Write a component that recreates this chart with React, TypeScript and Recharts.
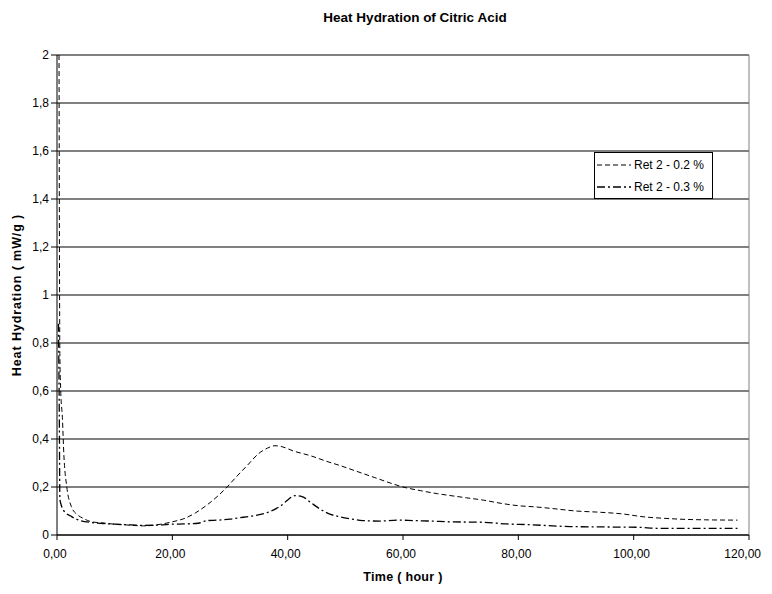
import React from "react";
import { LineChart, Line, XAxis, YAxis, CartesianGrid, ReferenceLine } from "recharts";

const xTicks = [0, 20, 40, 60, 80, 100, 120];
const yTicks = [0, 0.2, 0.4, 0.6, 0.8, 1, 1.2, 1.4, 1.6, 1.8, 2];

const ret02Hours = [0.35, 0.5, 0.65, 0.93, 1.2, 1.7, 2.5, 3.5, 4.5, 6, 8, 10, 12, 15, 18, 20, 22, 24, 26, 28, 29.5, 31, 33, 35, 36.5, 37.8, 39, 41, 44, 47, 49, 52, 55, 58, 60, 63, 66, 68, 71, 74, 77, 80, 83, 86, 90, 94, 98, 102, 105, 109, 113, 118];
const ret02Values = [2.0, 0.75, 0.6, 0.49, 0.33, 0.2, 0.118, 0.085, 0.07, 0.055, 0.05, 0.045, 0.042, 0.038, 0.045, 0.055, 0.068, 0.092, 0.125, 0.165, 0.2, 0.24, 0.29, 0.34, 0.362, 0.372, 0.368, 0.35, 0.33, 0.305, 0.29, 0.265, 0.24, 0.215, 0.2, 0.185, 0.172, 0.165, 0.155, 0.145, 0.132, 0.122, 0.117, 0.11, 0.1, 0.095, 0.088, 0.075, 0.07, 0.065, 0.063, 0.062];

const ret03Hours = [0.25, 0.4, 0.5, 0.8, 1.1, 1.6, 2.3, 3, 4, 6, 8, 10, 13, 15, 18, 20, 22, 24.5, 26, 28, 30, 32.3, 34, 36, 38, 39, 40, 41.3, 42.5, 44, 45.5, 47, 49, 51, 53, 56, 59, 62, 65, 68, 71, 74, 78, 82, 86, 89, 93, 97, 101, 104, 108, 113, 118];
const ret03Values = [0.88, 0.5, 0.15, 0.12, 0.104, 0.09, 0.08, 0.07, 0.06, 0.052, 0.048, 0.045, 0.042, 0.04, 0.042, 0.045, 0.046, 0.049, 0.06, 0.062, 0.066, 0.074, 0.08, 0.09, 0.11, 0.125, 0.146, 0.164, 0.16, 0.135, 0.11, 0.09, 0.076, 0.067, 0.06, 0.058, 0.062, 0.06, 0.058, 0.055, 0.054, 0.053, 0.046, 0.043, 0.038, 0.035, 0.034, 0.033, 0.032, 0.028, 0.028, 0.028, 0.028];

const seriesNames = ["Ret 2 - 0.2 %", "Ret 2 - 0.3 %"];

const ret02 = ret02Hours.map((h, i) => ({ hour: h, value: ret02Values[i] }));
const ret03 = ret03Hours.map((h, i) => ({ hour: h, value: ret03Values[i] }));

const FONT = "'Liberation Sans', Arial, sans-serif";
const DASH02 = "5 3";
const DASH03 = "8 3 2 3";

const fmtY = (v: number) => (Math.round(v * 10) / 10).toString().replace(".", ",");
const fmtX = (v: number) => v.toFixed(2).replace(".", ",");

const XTick = (props: any) => {
  const { x, y, payload } = props;
  const isLast = payload.value === xTicks[xTicks.length - 1];
  return (
    <text
      x={isLast ? x + 12 : x - 2}
      y={y + 16}
      textAnchor={isLast ? "end" : "middle"}
      fill="#000"
      fontSize={12}
      fontFamily={FONT}
    >
      {fmtX(payload.value)}
    </text>
  );
};

const LegendBox = () => (
  <div
    style={{
      position: "absolute",
      left: 586,
      top: 144,
      border: "1px solid #000",
      background: "#fff",
      width: 119,
      height: 47,
      boxSizing: "border-box",
      fontFamily: FONT,
      fontSize: 12,
      padding: "1px 0 0 2px",
      zIndex: 2,
    }}
  >
    {[DASH02, DASH03].map((d, i) => (
      <div key={i} style={{ display: "flex", alignItems: "center", height: 22 }}>
        <svg width={34} height={6} style={{ marginRight: 3 }}>
          <line x1={0} y1={3} x2={34} y2={3} stroke="#000" strokeWidth={i === 0 ? 1 : 1.6} strokeDasharray={d} />
        </svg>
        <span>{seriesNames[i]}</span>
      </div>
    ))}
  </div>
);

export default function App() {
  return (
    <div style={{ position: "relative", width: 764, height: 578, fontFamily: FONT, background: "#fff" }}>
      <style>{`.recharts-surface{overflow:visible}`}</style>
      <div
        style={{
          position: "absolute",
          left: 257,
          top: 2,
          width: 300,
          textAlign: "center",
          fontWeight: "bold",
          fontSize: 13.5,
          lineHeight: "16px",
        }}
      >
        Heat Hydration of Citric Acid
      </div>
      <div
        style={{
          position: "absolute",
          left: 9 - 100,
          top: 287 - 8,
          width: 200,
          textAlign: "center",
          fontWeight: "bold",
          fontSize: 12.5,
          letterSpacing: 0.9,
          transform: "rotate(-90deg)",
          lineHeight: "16px",
          whiteSpace: "nowrap",
        }}
      >
        Heat Hydration ( mW/g )
      </div>
      <div
        style={{
          position: "absolute",
          left: 295,
          top: 562,
          width: 200,
          textAlign: "center",
          fontWeight: "bold",
          fontSize: 12.5,
          letterSpacing: 0.3,
          lineHeight: "15px",
        }}
      >
        Time ( hour )
      </div>
      <LegendBox />
      <LineChart width={764} height={578} margin={{ top: 47, right: 23, bottom: 21, left: 0 }}>
        <CartesianGrid vertical={false} stroke="#000" horizontalValues={yTicks} />
        <XAxis
          type="number"
          dataKey="hour"
          domain={[0, 120]}
          ticks={xTicks}
          allowDataOverflow
          stroke="#000"
          tickSize={5}
          height={30}
          tick={<XTick />}
        />
        <YAxis
          type="number"
          dataKey="value"
          domain={[0, 2]}
          ticks={yTicks}
          tickFormatter={fmtY}
          allowDataOverflow
          stroke="#000"
          tickSize={6}
          tickMargin={2}
          width={49}
          tick={{ fill: "#000", fontSize: 12, fontFamily: FONT }}
        />
        <ReferenceLine x={120} stroke="#808080" />
        <ReferenceLine y={2} stroke="#808080" />
        <Line
          data={ret02}
          dataKey="value"
          name={seriesNames[0]}
          stroke="#000"
          strokeWidth={1}
          strokeDasharray={DASH02}
          dot={false}
          type="monotone"
          isAnimationActive={false}
        />
        <Line
          data={ret03}
          dataKey="value"
          name={seriesNames[1]}
          stroke="#000"
          strokeWidth={1.3}
          strokeDasharray={DASH03}
          dot={false}
          type="monotone"
          isAnimationActive={false}
        />
      </LineChart>
    </div>
  );
}
